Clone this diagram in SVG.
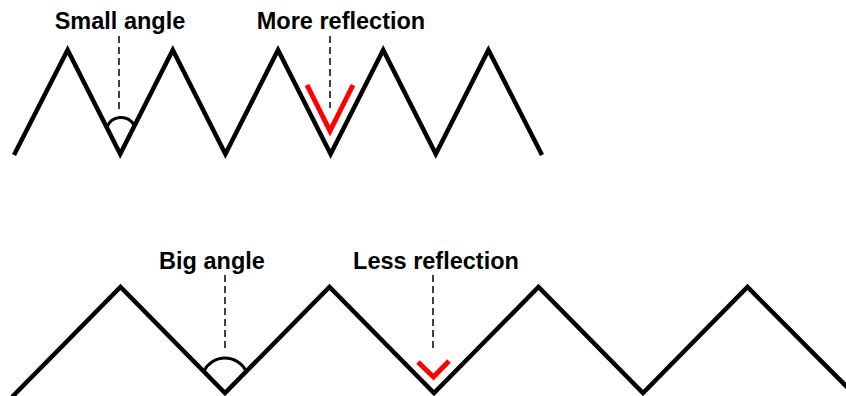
<svg xmlns="http://www.w3.org/2000/svg" width="846" height="396" viewBox="0 0 846 396">
  <style>
    .zig { fill: none; stroke: #000; stroke-width: 4.5; stroke-linejoin: miter; stroke-miterlimit: 10; }
    .arc { fill: none; stroke: #000; stroke-width: 3; }
    .red { fill: none; stroke: #ff0000; stroke-width: 5; stroke-linejoin: miter; }
    .dash { stroke: #000; stroke-width: 1.5; stroke-dasharray: 7 4; }
    .lbl { font-family: "Liberation Sans", Arial, sans-serif; font-weight: bold; font-size: 23.5px; fill: #000; text-anchor: middle; }
  </style>
  <rect width="846" height="396" fill="#fff"/>
  <g id="top-surface">
    <polyline class="zig" points="14,155 67.6,50 120.2,154 172.8,50 225.4,154 278,50 330.6,154 383.2,50 435.8,154 488.4,50 542,155"/>
  </g>
  <g id="bottom-surface">
    <polyline class="zig" points="12,397 120.5,287 225,393 329.5,287 434,393 538.5,287 643,393 747.5,287 860,400"/>
  </g>
  <g id="small-angle">
    <path class="arc" d="M107,127 A15 15 0 0 1 134,125"/>
    <text class="lbl" x="120" y="29">Small angle</text>
  </g>
  <g id="more-reflection">
    <polyline class="red" points="307,85 330,131 353,85"/>
    <text class="lbl" x="341" y="29">More reflection</text>
  </g>
  <g id="big-angle">
    <path class="arc" d="M204,371 A23.5 23.5 0 0 1 246,371"/>
    <text class="lbl" x="212" y="269">Big angle</text>
  </g>
  <g id="less-reflection">
    <polyline class="red" points="418,362 433.5,377 449,361"/>
    <text class="lbl" x="436" y="269">Less reflection</text>
  </g>
  <g id="connectors">
    <line class="dash" x1="119" y1="36" x2="119" y2="112"/>
    <line class="dash" x1="330" y1="36" x2="330" y2="108"/>
    <line class="dash" x1="225" y1="275" x2="225" y2="352"/>
    <line class="dash" x1="433" y1="275" x2="433" y2="352"/>
  </g>
</svg>
